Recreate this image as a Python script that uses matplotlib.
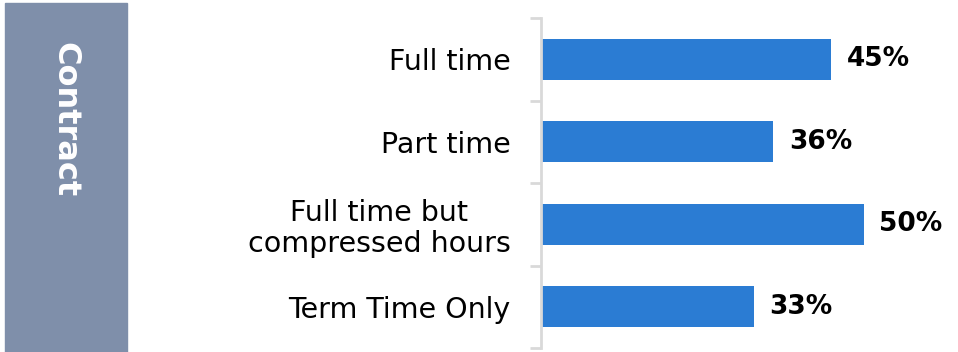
import matplotlib
matplotlib.use("Agg")
import matplotlib.pyplot as plt
from matplotlib.patches import Rectangle

categories = ["Full time", "Part time", "Full time but\ncompressed hours", "Term Time Only"]
values = [45, 36, 50, 33]
section_title = "Contract"

bar_color = "#2B7CD3"
panel_color = "#7F8FAA"
axis_color = "#D9D9D9"

plt.rcParams["font.family"] = ["DejaVu Sans"]

fig = plt.figure(figsize=(9.58, 3.52), dpi=100)

# side panel with the section name
fig.patches.append(Rectangle((5 / 958, 0), 122 / 958, 349 / 352,
                             transform=fig.transFigure, color=panel_color,
                             zorder=0))
fig.text(65 / 958, 1 - 120 / 352, section_title, rotation=270,
         ha="center", va="center", color="white", fontsize=23,
         fontweight="bold")

ax = fig.add_axes([541 / 958, 4 / 352, 417 / 958, 330 / 352])
ypos = list(range(len(categories)))
ax.barh(ypos, values, height=0.5, color=bar_color, left=0)
ax.set_ylim(len(categories) - 0.5, -0.5)
ax.set_xlim(0, 64.6)

for y, v in zip(ypos, values):
    ax.text(v + 2.4, y, f"{v}%", va="center", ha="left",
            fontsize=19, fontweight="bold", color="black")

# boundary ticks between categories, labels on minor ticks
ax.set_yticks([i - 0.5 for i in range(len(categories) + 1)])
ax.set_yticklabels([])
ax.set_yticks(ypos, minor=True)
ax.set_yticklabels(categories, minor=True, fontsize=20.5, ha="right",
                   multialignment="center", linespacing=1.12)
ax.tick_params(axis="y", which="major", length=8, width=2, color=axis_color)
ax.tick_params(axis="y", which="minor", length=0, pad=22)

for side in ["top", "right", "bottom"]:
    ax.spines[side].set_visible(False)
ax.spines["left"].set_color(axis_color)
ax.spines["left"].set_linewidth(2)
ax.set_xticks([])

fig.savefig("out.png", dpi=100)
